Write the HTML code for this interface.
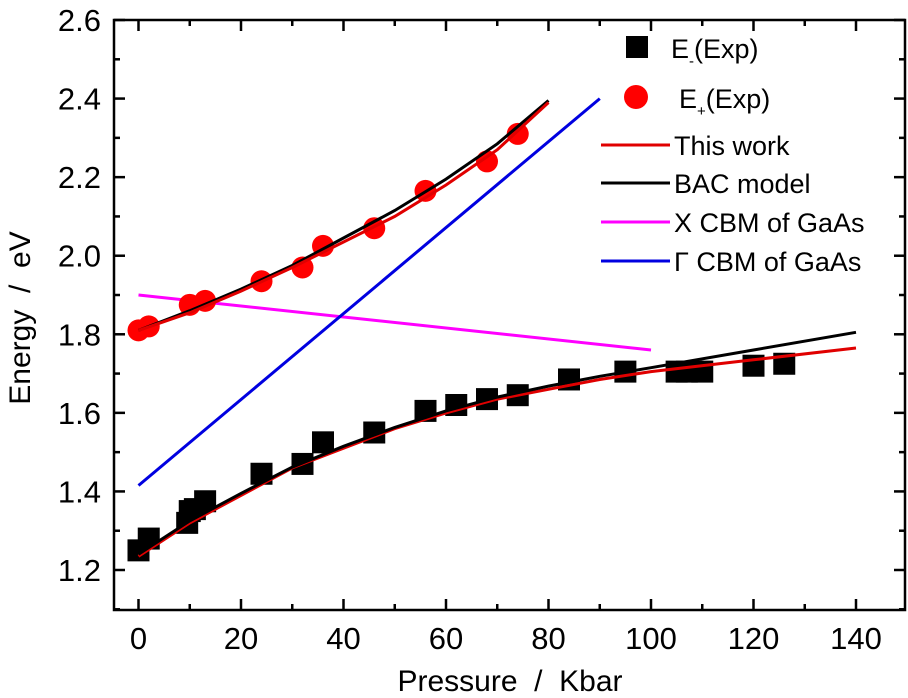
<!DOCTYPE html>
<html><head><meta charset="utf-8"><style>
body{margin:0;background:#fff}
svg text{font-family:"Liberation Sans",Arial,sans-serif;fill:#000;white-space:pre}
</style></head><body>
<svg id="chart" width="908" height="693" xmlns="http://www.w3.org/2000/svg"></svg>
<script>
const xTicks=[0,20,40,60,80,100,120,140];
const yTicks=[1.2,1.4,1.6,1.8,2.0,2.2,2.4,2.6];
const eMinusP=[0,2,9.5,10,11,13,24,32,36,46,56,62,68,74,84,95,105,107,110,120,126];
const eMinusE=[1.25,1.28,1.32,1.35,1.355,1.375,1.445,1.47,1.525,1.55,1.605,1.62,1.635,1.645,1.685,1.705,1.705,1.705,1.705,1.72,1.725];
const ePlusP=[0,2,10,13,24,32,36,46,56,68,74];
const ePlusE=[1.81,1.82,1.875,1.885,1.935,1.97,2.025,2.07,2.165,2.24,2.31];
const fitMinusP=[0,10,20,30,40,50,60,70,80,90,100,120,140];
const thisWorkMinus=[1.235,1.32,1.39,1.46,1.51,1.56,1.60,1.635,1.66,1.685,1.705,1.735,1.765];
const bacMinus=[1.24,1.325,1.395,1.462,1.515,1.563,1.605,1.64,1.668,1.693,1.715,1.76,1.805];
const fitPlusP=[0,10,20,30,40,50,60,70,80];
const thisWorkPlus=[1.81,1.855,1.91,1.97,2.035,2.1,2.18,2.27,2.39];
const bacPlus=[1.81,1.86,1.915,1.975,2.045,2.115,2.195,2.285,2.395];
const xCbmP=[0,100];const xCbmE=[1.90,1.76];
const gCbmP=[0,90];const gCbmE=[1.415,2.40];

const NS="http://www.w3.org/2000/svg";
const svg=document.getElementById('chart');
const L=114,R=905,T=20,B=610;
const xs=p=>138.5+p*5.125;
const ys=e=>570-(e-1.2)/0.2*78.57;
function mk(tag,attrs,parent){const el=document.createElementNS(NS,tag);for(const k in attrs)el.setAttribute(k,attrs[k]);(parent||svg).appendChild(el);return el;}

const frame=mk('rect',{x:L,y:T,width:R-L,height:B-T,fill:'none',stroke:'#000','stroke-width':2.5});



xTicks.forEach((v,i)=>{
  const x=xs(v);
  mk('line',{x1:x,y1:B,x2:x,y2:B-11,stroke:'#000','stroke-width':2.5});
  mk('line',{x1:x,y1:T,x2:x,y2:T+11,stroke:'#000','stroke-width':2.5});
  if(i<xTicks.length-1){const xm=xs(v+10);
    mk('line',{x1:xm,y1:B,x2:xm,y2:B-6,stroke:'#000','stroke-width':2.5});
    mk('line',{x1:xm,y1:T,x2:xm,y2:T+6,stroke:'#000','stroke-width':2.5});}
  const t=mk('text',{x:x,y:649,'font-size':31,'text-anchor':'middle'});t.textContent=v;
  
  
});
yTicks.forEach((v,i)=>{
  const y=ys(v);
  mk('line',{x1:L,y1:y,x2:L+11,y2:y,stroke:'#000','stroke-width':2.5});
  mk('line',{x1:R,y1:y,x2:R-11,y2:y,stroke:'#000','stroke-width':2.5});
  const ym=ys(v-0.1);
  if(ym<B){mk('line',{x1:L,y1:ym,x2:L+6,y2:ym,stroke:'#000','stroke-width':2.5});
    mk('line',{x1:R,y1:ym,x2:R-6,y2:ym,stroke:'#000','stroke-width':2.5});}
  const t=mk('text',{x:101,y:y+11,'font-size':31,'text-anchor':'end'});t.textContent=v.toFixed(1);
  
  
});
const xt=mk('text',{x:510,y:691,'font-size':30,'text-anchor':'middle'});xt.textContent='Pressure  /  Kbar';


const yt=mk('text',{x:0,y:0,'font-size':30,'text-anchor':'middle',transform:'translate(30,318) rotate(-90)'});yt.textContent='Energy  /  eV';



function line(P,E,color,name){
  const d=P.map((p,i)=>(i?'L':'M')+xs(p).toFixed(1)+','+ys(E[i]).toFixed(1)).join(' ');
  const el=mk('path',{d:d,fill:'none',stroke:color,'stroke-width':3});
  
  
}
line(xCbmP,xCbmE,'#ff00ff','x-cbm-line');
line(gCbmP,gCbmE,'#0000e0','gamma-cbm-line');
eMinusP.forEach((p,i)=>{const r=mk('rect',{x:xs(p)-11,y:ys(eMinusE[i])-11,width:22,height:22,fill:'#000'});
  
  });
ePlusP.forEach((p,i)=>{const c=mk('circle',{cx:xs(p),cy:ys(ePlusE[i]),r:11,fill:'#f00'});
  
  });
line(fitMinusP,thisWorkMinus,'#e00000','this-work-e-minus');
line(fitMinusP,bacMinus,'#000','bac-e-minus');
line(fitPlusP,bacPlus,'#000','bac-e-plus');
line(fitPlusP,thisWorkPlus,'#e00000','this-work-e-plus');

const lg=mk('g',{});


mk('rect',{x:626,y:36,width:22,height:22,fill:'#000'},lg);
let t=mk('text',{x:671,y:58,'font-size':27},lg);t.innerHTML='E<tspan font-size="15" dy="8">-</tspan><tspan dy="-8">(Exp)</tspan>';
mk('circle',{cx:636,cy:97,r:12,fill:'#f00'},lg);
t=mk('text',{x:679,y:108,'font-size':27},lg);t.innerHTML='E<tspan font-size="15" dy="8">+</tspan><tspan dy="-8">(Exp)</tspan>';
[['This work','#e00000',145],['BAC model','#000',183],['X CBM of GaAs','#ff00ff',222],['\u0393 CBM of GaAs','#0000e0',261]].forEach(([lab,c,y])=>{
  mk('line',{x1:601,y1:y,x2:670,y2:y,stroke:c,'stroke-width':3},lg);
  const tx=mk('text',{x:674,y:y+10,'font-size':27},lg);tx.textContent=lab;
});
</script>
</body></html>
